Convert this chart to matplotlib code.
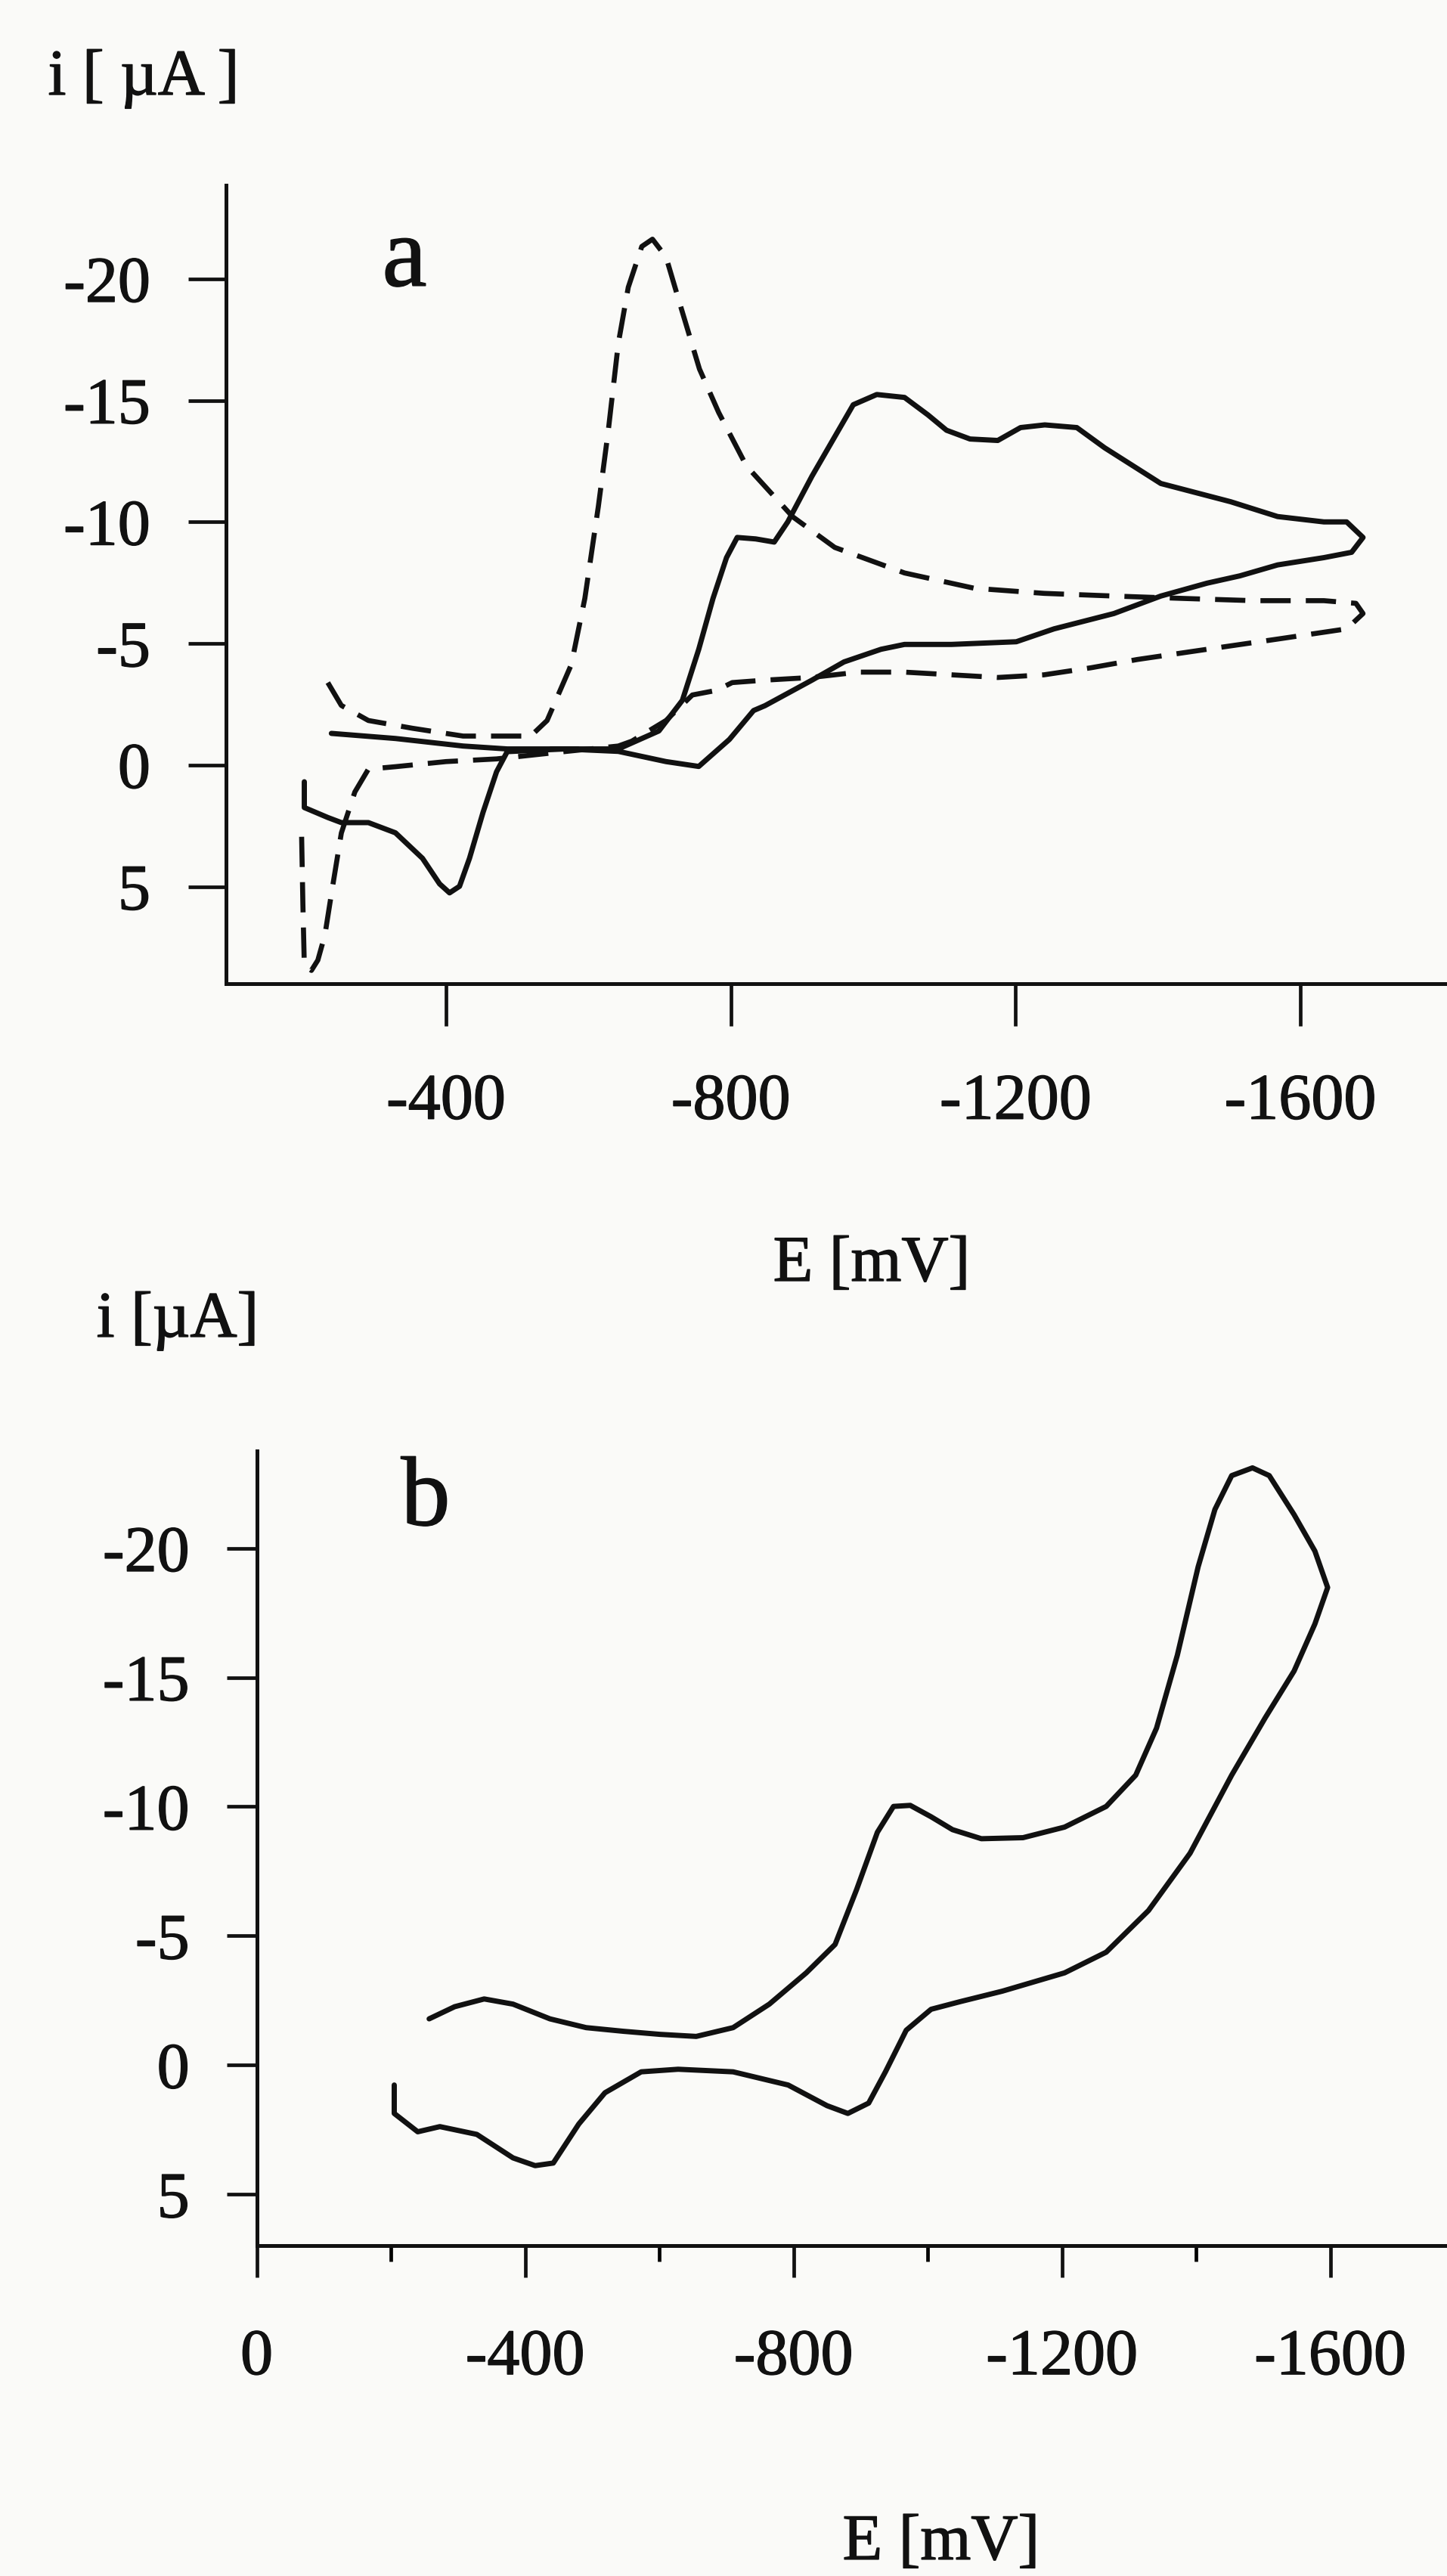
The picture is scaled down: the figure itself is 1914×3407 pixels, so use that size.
import matplotlib
matplotlib.use("Agg")
import matplotlib.pyplot as plt
import matplotlib.patheffects as pe

# panel a: solid voltammogram (E in mV, i in uA)
a_solid_E = [-239, -329, -424, -486, -566, -642, -699, -732, -755, -775, -794, -809, -835, -861,
             -880, -914, -972, -1005, -1044, -1077, -1103, -1136, -1175, -1207, -1241, -1286,
             -1325, -1404, -1502, -1568, -1633, -1665, -1688,
             -1672, -1633, -1568, -1515, -1469, -1404, -1338, -1254, -1201, -1110, -1044, -1011,
             -959, -914, -848, -832, -798, -755, -709, -642, -566, -486, -471, -452, -433, -419,
             -405, -391, -367, -329, -291, -253, -234, -201, -201]
a_solid_i = [-1.30, -1.09, -0.78, -0.66, -0.66, -0.66, -1.40, -2.66, -4.76, -6.85, -8.53, -9.36, -9.30, -9.17,
             -10.0, -11.88, -14.82, -15.24, -15.12, -14.40, -13.77, -13.41, -13.35, -13.88, -13.99, -13.88,
             -13.05, -11.58, -10.83, -10.22, -10.0, -10.0, -9.36,
             -8.75, -8.53, -8.23, -7.78, -7.48, -6.95, -6.23, -5.60, -5.07, -4.96, -4.96, -4.76,
             -4.24, -3.49, -2.44, -2.24, -1.05, 0.06, -0.14, -0.56, -0.66, -0.55, 0.28, 1.95, 3.84, 4.99,
             5.26, 4.89, 3.84, 2.79, 2.37, 2.37, 2.16, 1.75, 0.69]

# panel a: dashed voltammogram
a_dash_E = [-234, -253, -291, -353, -424, -519, -542, -576, -595, -614, -628, -642, -656, -675,
            -690, -709, -728, -756, -783, -822, -887, -946, -1044, -1142, -1240, -1338, -1437,
            -1534, -1633, -1678, -1688,
            -1665, -1568, -1469, -1371, -1306, -1240, -1175, -1110, -1044, -979, -913, -848,
            -802, -780, -746, -709, -661, -642, -566, -471, -400, -329, -291, -272, -253, -239,
            -230, -220, -211, -201, -199, -197]
a_dash_i = [-3.39, -2.45, -1.83, -1.51, -1.19, -1.19, -1.83, -4.13, -6.85, -10.64, -13.77, -17.34, -19.65, -21.33,
            -21.63, -20.90, -19.02, -16.29, -14.5, -12.30, -10.21, -8.95, -7.90, -7.27, -7.06, -6.95, -6.85,
            -6.76, -6.76, -6.65, -6.23,
            -5.60, -5.18, -4.76, -4.34, -4.00, -3.71, -3.60, -3.71, -3.82, -3.82, -3.60, -3.49,
            -3.39, -3.07, -2.88, -1.83, -0.98, -0.78, -0.55, -0.25, -0.14, 0.07, 0.17, 1.11, 2.80, 5.31,
            6.98, 8.03, 8.45, 8.24, 5.73, 2.58]

# panel b: solid voltammogram
b_E = [-257, -295, -339, -382, -437, -491, -546, -601, -655, -710, -764, -819, -862, -894, -925,
       -949, -974, -1005, -1037, -1080, -1142, -1204, -1266, -1310, -1341, -1372, -1403, -1428,
       -1453, -1484, -1509, -1546, -1577, -1596,
       -1577, -1546, -1503, -1453, -1391, -1329, -1266, -1204, -1111, -1049, -1005, -968, -937,
       -912, -881, -850, -792, -710, -628, -573, -519, -480, -442, -415, -382, -328, -273, -240,
       -205, -205]
b_i = [-1.79, -2.26, -2.56, -2.36, -1.79, -1.45, -1.31, -1.19, -1.11, -1.45, -2.36, -3.57, -4.67, -6.79, -9.01,
       -10.01, -10.05, -9.61, -9.11, -8.76, -8.80, -9.21, -10.01, -11.22, -13.04, -15.86, -19.28, -21.5,
       -22.81, -23.11, -22.81, -21.30, -19.89, -18.48,
       -17.07, -15.25, -13.44, -11.22, -8.20, -5.98, -4.37, -3.57, -2.86, -2.46, -2.16, -1.35, 0.26,
       1.47, 1.87, 1.57, 0.77, 0.26, 0.16, 0.26, 1.07, 2.28, 3.79, 3.89, 3.59, 2.68, 2.38, 2.58,
       1.87, 0.77]

y_ticks = [-20, -15, -10, -5, 0, 5]
y_labels = ["-20", "-15", "-10", "-5", "0", "5"]
a_xticks = [-400, -800, -1200, -1600]
a_xlabels = ["-400", "-800", "-1200", "-1600"]
b_xticks = [0, -400, -800, -1200, -1600]
b_xlabels = ["0", "-400", "-800", "-1200", "-1600"]
b_xminor = [-200, -600, -1000, -1400]

plt.rcParams['font.family'] = ['Liberation Serif', 'DejaVu Serif']
bg = '#fafaf8'
ink = '#111111'
fs = 62
thick = [pe.withStroke(linewidth=1.0, foreground=ink)]

fig = plt.figure(figsize=(19.15, 34.07), dpi=100)
fig.patch.set_facecolor(bg)

ax1 = fig.add_axes([0.1561, 0.6181, 0.8439, 0.3100])
ax2 = fig.add_axes([0.1773, 0.1283, 0.8227, 0.3085])

for ax in (ax1, ax2):
    ax.set_facecolor(bg)
    for s in ('top', 'right'):
        ax.spines[s].set_visible(False)
    for s in ('left', 'bottom'):
        ax.spines[s].set_linewidth(3.6)
        ax.spines[s].set_color(ink)
    ax.set_yticks(y_ticks)
    ax.set_yticklabels(y_labels)

ax1.plot(a_solid_E, a_solid_i, color=ink, lw=5, solid_joinstyle='round', solid_capstyle='round')
ax1.plot(a_dash_E, a_dash_i, color=ink, lw=4.8, linestyle=(0, (6, 3)))
ax1.set_xlim(-91, -1807)
ax1.set_ylim(9.0, -23.85)
ax1.set_xticks(a_xticks)
ax1.set_xticklabels(a_xlabels)
ax1.tick_params(axis='x', length=40, width=3.4, pad=45, labelsize=fs, colors=ink)
ax1.tick_params(axis='y', length=36, width=3.4, pad=36, labelsize=fs, colors=ink)

ax2.plot(b_E, b_i, color=ink, lw=5, solid_joinstyle='round', solid_capstyle='round')
ax2.set_xlim(0, -1775)
ax2.set_ylim(6.98, -23.77)
ax2.set_xticks(b_xticks)
ax2.set_xticklabels(b_xlabels)
ax2.set_xticks(b_xminor, minor=True)
ax2.tick_params(axis='x', which='major', length=30, width=3.4, pad=49, labelsize=fs, colors=ink)
ax2.tick_params(axis='x', which='minor', length=15, width=3.4)
ax2.tick_params(axis='y', length=29, width=3.4, pad=35, labelsize=fs, colors=ink)

for ax in (ax1, ax2):
    for lab in ax.get_xticklabels() + ax.get_yticklabels():
        lab.set_path_effects(thick)

texts = [
    fig.text(0.0992, 0.9633, "i [ µA ]", ha='center', va='baseline', fontsize=fs),
    fig.text(0.6021, 0.5028, "E [mV]", ha='center', va='baseline', fontsize=fs),
    fig.text(0.1227, 0.4811, "i [µA]", ha='center', va='baseline', fontsize=fs),
    fig.text(0.6501, 0.0065, "E [mV]", ha='center', va='baseline', fontsize=fs),
    fig.text(0.2794, 0.8891, "a", ha='center', va='baseline', fontsize=96),
    fig.text(0.2940, 0.4080, "b", ha='center', va='baseline', fontsize=94),
]
for t in texts:
    t.set_color(ink)
    t.set_path_effects(thick)

fig.savefig("out.png", dpi=100, facecolor=bg)
